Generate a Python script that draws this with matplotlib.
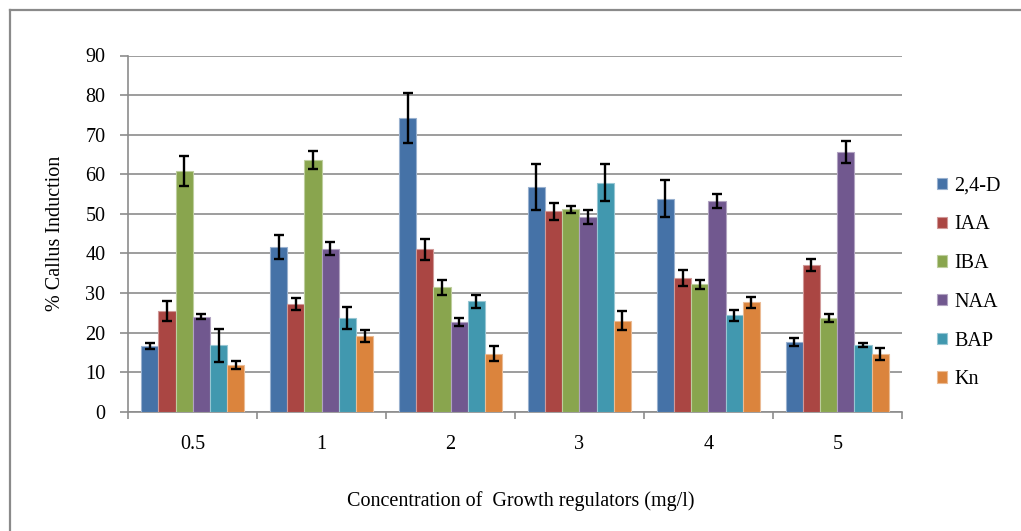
import matplotlib
matplotlib.use("Agg")
import matplotlib.pyplot as plt
import matplotlib.colors as mcolors
from matplotlib.lines import Line2D
import numpy as np

plt.rcParams['font.family'] = ['Liberation Serif', 'DejaVu Serif']

# Concentrations (mg/l) on the x axis
concentrations = ["0.5", "1", "2", "3", "4", "5"]
regulators = ["2,4-D", "IAA", "IBA", "NAA", "BAP", "Kn"]

# Mean callus induction (%) for each regulator at each concentration
d24 = [16.6, 41.6, 74.2, 56.7, 53.8, 17.6]
iaa = [25.4, 27.3, 41.0, 50.6, 33.7, 37.0]
iba = [60.8, 63.5, 31.5, 51.1, 32.2, 23.7]
naa = [24.0, 41.2, 22.7, 49.1, 53.3, 65.7]
bap = [16.8, 23.7, 27.9, 57.9, 24.4, 16.9]
kn = [11.8, 19.1, 14.7, 23.0, 27.6, 14.5]

# Standard errors
d24_err = [0.7, 3.0, 6.3, 5.8, 4.7, 1.0]
iaa_err = [2.6, 1.5, 2.6, 2.1, 2.0, 1.5]
iba_err = [3.8, 2.3, 1.9, 0.9, 1.1, 1.0]
naa_err = [0.6, 1.6, 1.1, 1.8, 1.8, 2.8]
bap_err = [4.2, 2.8, 1.6, 4.7, 1.4, 0.5]
kn_err = [1.0, 1.6, 2.0, 2.4, 1.5, 1.5]

means = [d24, iaa, iba, naa, bap, kn]
errors = [d24_err, iaa_err, iba_err, naa_err, bap_err, kn_err]
colors = ["#4572A7", "#AA4643", "#89A54E", "#71588F", "#4198AF", "#DB843D"]

W, H = 1021, 531
fig = plt.figure(figsize=(W / 100, H / 100), dpi=100)
fig.patch.set_facecolor("white")

ax = fig.add_axes([128.3 / W, 1 - 411.7 / H, (901.7 - 128.3) / W, (411.7 - 55.5) / H])

grid_col = "#8c8c8c"
fs = 14.5
x = np.arange(len(concentrations))
bw = 1 / 7.5
for i, (vals, errs, c) in enumerate(zip(means, errors, colors)):
    edge = mcolors.to_rgb(c)
    edge = tuple(0.55 * e + 0.45 for e in edge)
    ax.bar(x + (i - 2.5) * bw, vals, width=bw, color=c, edgecolor=edge,
           linewidth=0.8, label=regulators[i], zorder=3)
    ax.errorbar(x + (i - 2.5) * bw, vals, yerr=errs, fmt="none",
                ecolor="black", elinewidth=1.7, capsize=3.8, capthick=1.7, zorder=4)

ax.set_xlim(-0.5, 5.5)
ax.set_ylim(0, 90)
ax.set_yticks(np.arange(0, 91, 10))
ax.yaxis.grid(True, color=grid_col, linewidth=1.2, zorder=0)
ax.set_axisbelow(True)

ax.set_xticks(x)
ax.set_xticklabels(concentrations)
ax.set_xticks(np.arange(-0.5, 6, 1), minor=True)
ax.tick_params(axis="x", which="major", length=0, pad=17, labelsize=fs)
ax.tick_params(axis="x", which="minor", length=5, width=1.2, color=grid_col, direction="out")
ax.tick_params(axis="y", length=5.5, width=1.2, color=grid_col, direction="out", pad=11, labelsize=fs)

for s in ["top", "right"]:
    ax.spines[s].set_visible(False)
for s in ["left", "bottom"]:
    ax.spines[s].set_color(grid_col)
    ax.spines[s].set_linewidth(1.2)

fig.text(55 / W, 1 - 233.6 / H, "% Callus Induction", rotation=90,
         ha="center", va="center", fontsize=fs)
fig.text(521 / W, 1 - 501 / H, "Concentration of  Growth regulators (mg/l)",
         ha="center", va="center", fontsize=fs)

handles, labels = ax.get_legend_handles_labels()
fig.legend(handles, labels, loc="center left", bbox_to_anchor=(937 / W, 1 - 283 / H),
           frameon=False, fontsize=fs, handlelength=0.5, handleheight=0.5,
           handletextpad=0.35, labelspacing=0.98, borderpad=0, borderaxespad=0)

# Chart-area frame (top and left edges)
fig.add_artist(Line2D([10 / W, 10 / W], [0, 1 - 10 / H], transform=fig.transFigure,
                      color="#8a8a8a", linewidth=1.6))
fig.add_artist(Line2D([10 / W, 1], [1 - 10 / H, 1 - 10 / H], transform=fig.transFigure,
                      color="#8a8a8a", linewidth=1.6))

fig.savefig("out.png", dpi=100)
